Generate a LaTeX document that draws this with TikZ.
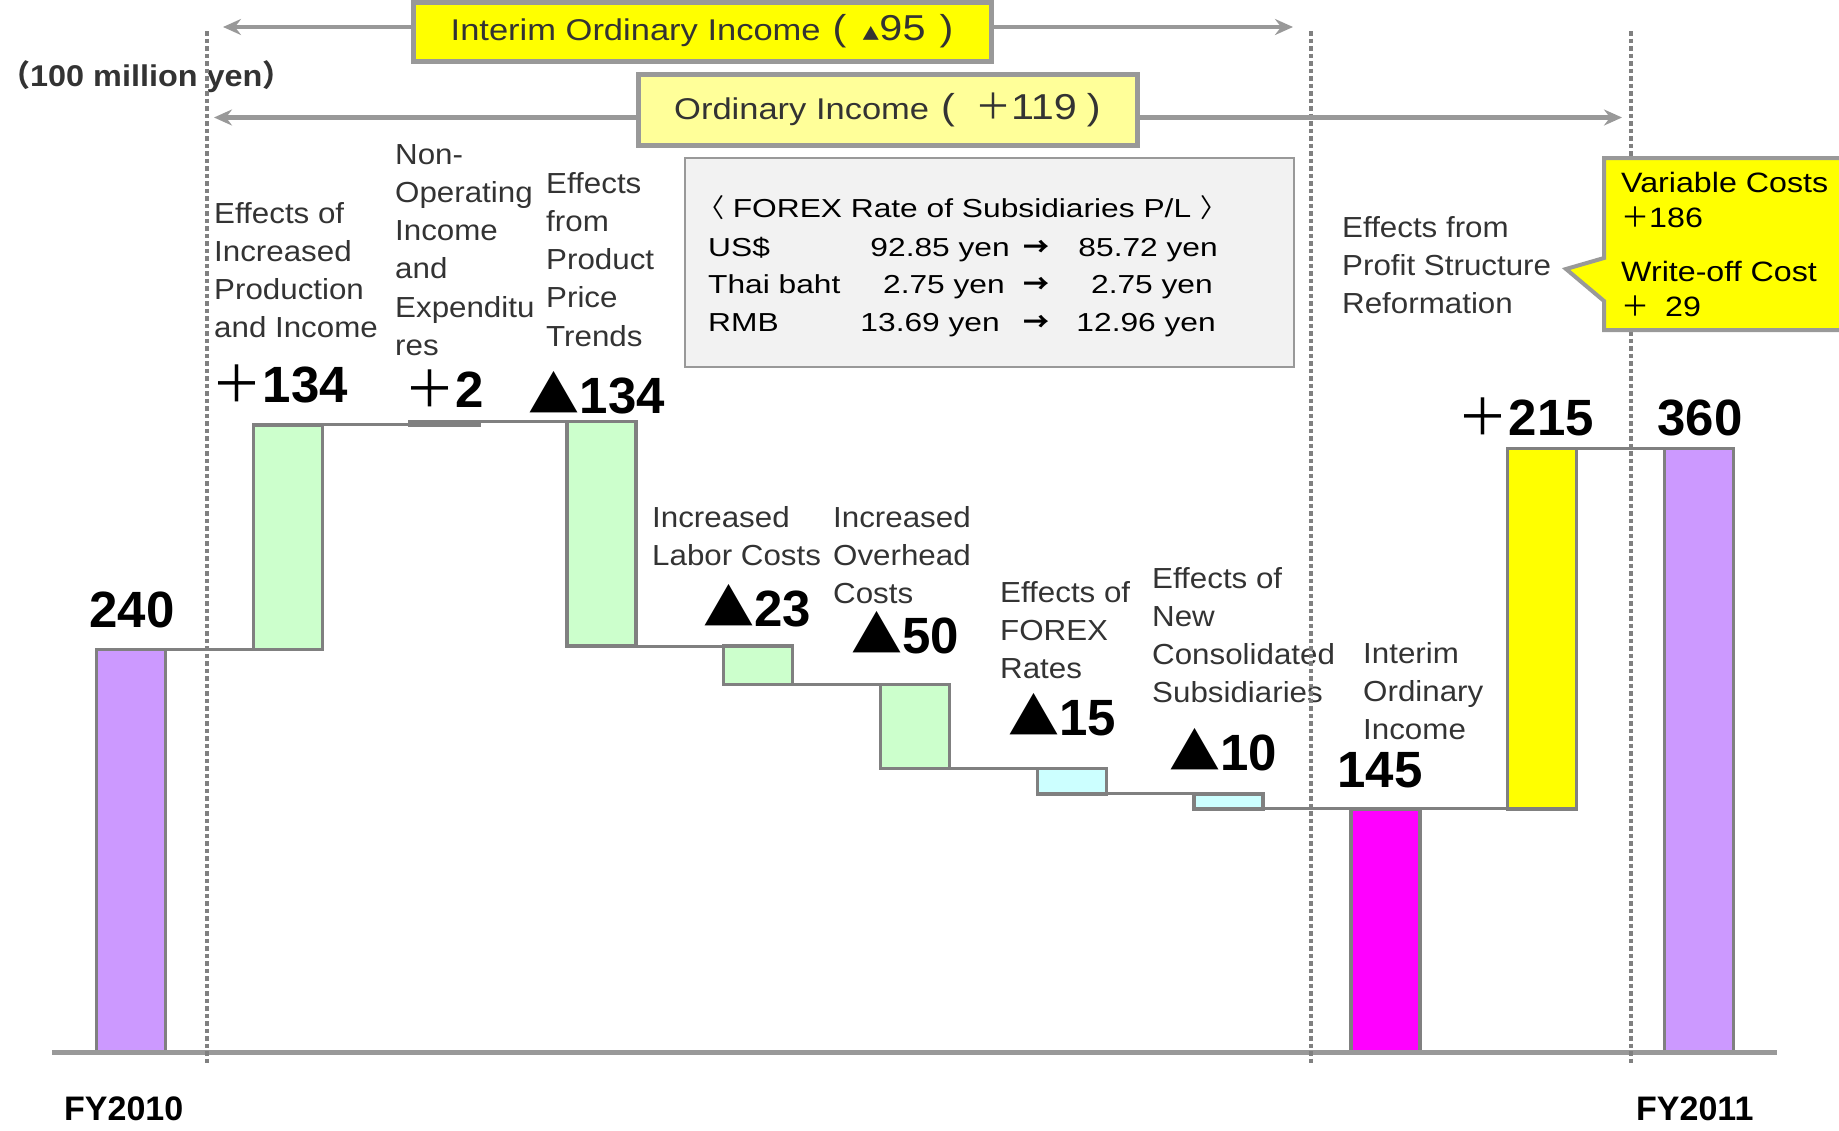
\documentclass[tikz,border=0pt]{standalone}
\usepackage{fontspec}
\setmainfont{Liberation Sans}
\newfontfamily\lblfont{Liberation Sans}[FakeStretch=1.08]
\newfontfamily\boxfont{Liberation Sans}[FakeStretch=1.15]
\newfontfamily\fxfont{Liberation Sans}[FakeStretch=1.22]
\newfontfamily\cjk{Noto Sans CJK JP}
\usetikzlibrary{arrows.meta}

\definecolor{barpurple}{HTML}{CC99FF}
\definecolor{bargreen}{HTML}{CCFFCC}
\definecolor{barcyan}{HTML}{CCFFFF}
\definecolor{barmagenta}{HTML}{FF00FF}
\definecolor{baryellow}{HTML}{FFFF00}
\definecolor{paleyellow}{HTML}{FFFF99}
\definecolor{edgegray}{HTML}{808080}
\definecolor{spangray}{HTML}{999999}
\definecolor{lblgray}{HTML}{333333}
\definecolor{fxfill}{HTML}{F2F2F2}

% stacked lines, baseline on the first one
\newcommand{\lines}[1]{\begin{tabular}[t]{@{}l@{}}#1\end{tabular}}

\begin{document}
\begin{tikzpicture}[x=1pt, y=-1pt,
  bar/.style={draw=edgegray, line width=3.5pt, minimum width=69pt, inner sep=0pt, outer sep=0pt},
  link/.style={draw=edgegray, line width=3pt},
  guide/.style={draw=edgegray, line width=4pt, dash pattern=on 4.5pt off 3pt},
  span/.style={draw=spangray, line width=4.5pt, -{Stealth[length=18pt, width=16pt, inset=6pt]}},
  hibox/.style={draw=spangray, line width=5pt, inner sep=0pt, text=lblgray,
    font=\boxfont\fontsize{30}{30}\selectfont},
  lbl/.style={anchor=base west, inner sep=0pt, text=lblgray,
    font=\lblfont\fontsize{29}{38.3}\selectfont},
  big/.style={anchor=base, inner sep=0pt, font=\bfseries\fontsize{51}{51}\selectfont},
  fx/.style={inner sep=0pt, font=\fxfont\fontsize{26}{26}\selectfont},
  note/.style={anchor=base west, inner sep=0pt,
    font=\boxfont\fontsize{28}{35}\selectfont},
]
  \useasboundingbox (0,0) rectangle (1839,1130);

  % waterfall bars: name / slot / low / high / fill
  \foreach \nm/\i/\lo/\hi/\fl in {b240/0/0/240/barpurple, b134/1/240/374/bargreen,
      b2/2/374/376/edgegray, bm134/3/242/376/bargreen, b23/4/219/242/bargreen,
      b50/5/169/219/bargreen, b15/6/154/169/barcyan, b10/7/145/154/barcyan,
      b145/8/0/145/barmagenta, b215/9/145/360/baryellow, b360/10/0/360/barpurple}
    \node[bar, fill=\fl, minimum height={1.677*(\hi-\lo)}] (\nm)
      at ({131+156.8*\i}, {1052-1.677*(\hi+\lo)/2}) {};

  \foreach \a/\b in {b240.north east/b134.south west, b134.north east/b2.south west,
      b2.north east/bm134.north west, bm134.south east/b23.north west,
      b23.south east/b50.north west, b50.south east/b15.north west,
      b15.south east/b10.north west, b10.south east/b145.north west,
      b145.north east/b215.south west, b215.north east/b360.north west}
    \draw[link] (\a) -- (\b);

  \draw[spangray, line width=5pt] (52,1052) -- (1777,1052);

  % values
  \node[big] (v240)  at (132,627)    {240};
  \node[big] (v134)  at (280,402)    {{\cjk\mdseries ＋}134};
  \node[big] (v2)    at (444,407)    {{\cjk\mdseries ＋}2};
  \node[big] (vm134) at (597,413)    {{\cjk\mdseries ▲}134};
  \node[big] (v23)   at (757,626)    {{\cjk\mdseries ▲}23};
  \node[big] (v50)   at (905,653)    {{\cjk\mdseries ▲}50};
  \node[big] (v15)   at (1062,735)   {{\cjk\mdseries ▲}15};
  \node[big] (v10)   at (1223,770)   {{\cjk\mdseries ▲}10};
  \node[big] (v145)  at (1380,787)   {145};
  \node[big] (v215)  at (1526,435)   {{\cjk\mdseries ＋}215};
  \node[big] (v360)  at (1700,435)   {360};

  % item labels
  \node[lbl] (l134)  at (214,223)  {\lines{Effects of\\Increased\\Production\\and Income}};
  \node[lbl] (l2)    at (395,164)  {\lines{Non-\\Operating\\Income\\and\\Expenditu\\res}};
  \node[lbl] (lm134) at (546,193)  {\lines{Effects\\from\\Product\\Price\\Trends}};
  \node[lbl] (l23)   at (652,527)  {\lines{Increased\\Labor Costs}};
  \node[lbl] (l50)   at (833,527)  {\lines{Increased\\Overhead\\Costs}};
  \node[lbl] (l15)   at (1000,602) {\lines{Effects of\\FOREX\\Rates}};
  \node[lbl] (l10)   at (1152,588) {\lines{Effects of\\New\\Consolidated\\Subsidiaries}};
  \node[lbl] (l145)  at (1363,663) {\lines{Interim\\Ordinary\\Income}};
  \node[lbl] (l215)  at (1342,237) {\lines{Effects from\\Profit Structure\\Reformation}};

  \node[anchor=base west, inner sep=0pt, text=lblgray,
    font=\lblfont\bfseries\fontsize{30}{30}\selectfont] (unit) at (0,86)
    {{\cjk （}100 million yen{\cjk ）}};
  \node[anchor=base west, inner sep=0pt, font=\bfseries\fontsize{34}{34}\selectfont]
    (fy10) at (64,1120) {FY2010};
  \node[anchor=base west, inner sep=0pt, font=\bfseries\fontsize{34}{34}\selectfont]
    (fy11) at (1636,1120) {FY2011};

  % period guides
  \foreach \gx in {207,1311,1631}
    \draw[guide] (\gx,31) -- (\gx,1066);

  % income spans
  \node[hibox, fill=baryellow, minimum width=578pt, minimum height=59pt] (interim)
    at (702,31.5) {Interim Ordinary Income\hspace{12pt}{\fontsize{36}{36}\selectfont
      (\hspace{16pt}{\cjk\fontsize{17}{17}\selectfont ▲}95\hspace{14pt})}};
  \node[hibox, fill=paleyellow, minimum width=499pt, minimum height=71pt] (ordinary)
    at (887.5,109.5) {Ordinary Income\hspace{12pt}{\fontsize{36}{36}\selectfont
      (\hspace{20pt}{\cjk ＋}119\hspace{10pt})}};
  \coordinate (il) at (223,27);
  \coordinate (ir) at (1293,27);
  \coordinate (ol) at (214,117.5);
  \coordinate (or) at (1622,117.5);
  \draw[span] (interim.west |- il) -- (il);
  \draw[span] (interim.east |- ir) -- (ir);
  \draw[span] (ordinary.west |- ol) -- (ol);
  \draw[span] (ordinary.east |- or) -- (or);

  % FOREX rates
  \node[draw=spangray, line width=2.5pt, fill=fxfill, minimum width=609pt,
    minimum height=209pt] (forex) at (989.5,262.5) {};
  \node[fx, anchor=base] (fxhead) at (962,217)
    {{\cjk 〈} FOREX Rate of Subsidiaries P/L {\cjk 〉}};
  \foreach \cur/\old/\ox/\new/\nx [count=\r] in {US\$/92.85/1010/85.72/1218,
      Thai baht/2.75/1005/2.75/1213, RMB/13.69/1000/12.96/1216} {
    \node[fx, anchor=base west] (cur\r) at (708,{256+37.5*(\r-1)}) {\cur};
    \node[fx, anchor=base east] (old\r) at (\ox,{256+37.5*(\r-1)}) {\old{} yen};
    \node[fx, anchor=base] (arr\r) at (1036,{256+37.5*(\r-1)}) {{\cjk\bfseries →}};
    \node[fx, anchor=base east] (new\r) at (\nx,{256+37.5*(\r-1)}) {\new{} yen};
  }

  % profit structure callout
  \draw[draw=spangray, line width=4pt, fill=baryellow]
    (1604,158) -- (1850,158) -- (1850,330) -- (1604,330) -- (1604,301)
    -- (1566,269) -- (1604,258) -- cycle;
  \node[note] (vc) at (1621,192) {\lines{Variable Costs\\{\cjk ＋}186}};
  \node[note] (wo) at (1621,281) {\lines{Write-off Cost\\{\cjk ＋}\hspace{16pt}29}};
\end{tikzpicture}
\end{document}
